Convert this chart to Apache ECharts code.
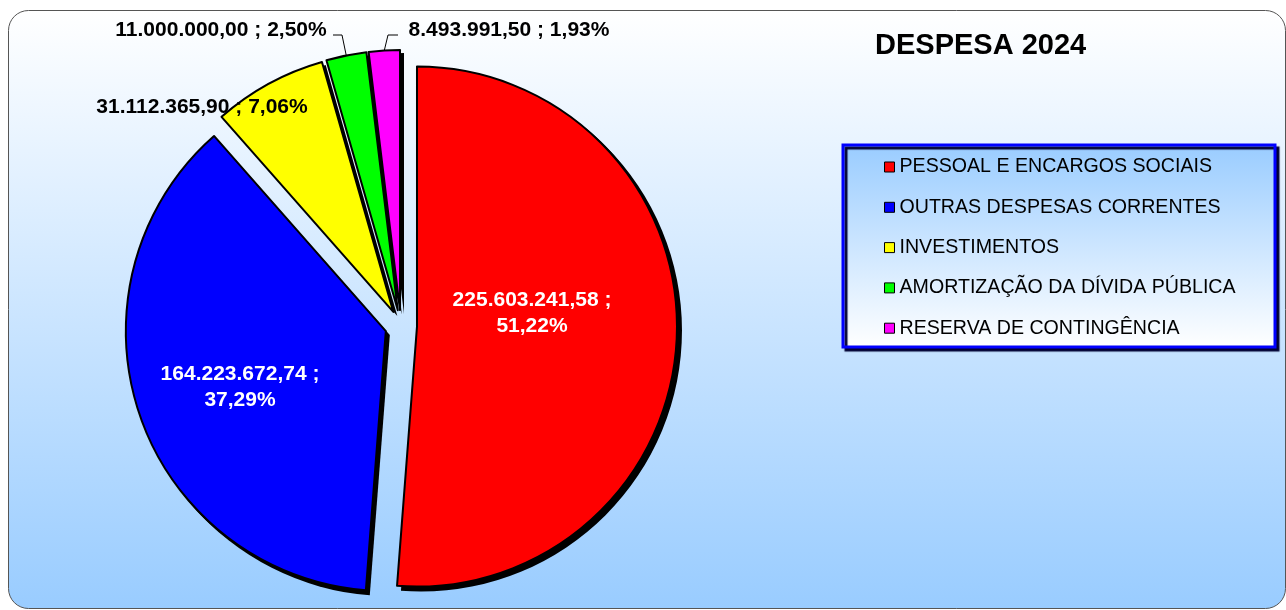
<!DOCTYPE html>
<html>
<head>
<meta charset="utf-8">
<script src="https://cdn.jsdelivr.net/npm/echarts@6/dist/echarts.min.js"></script>
<style>
html,body{margin:0;padding:0;background:#fff;}
#c{width:1286px;height:610px;}
</style>
</head>
<body>
<div id="c"></div>
<script>
const title = 'DESPESA 2024';
const categories = ['PESSOAL E ENCARGOS SOCIAIS', 'OUTRAS DESPESAS CORRENTES', 'INVESTIMENTOS', 'AMORTIZAÇÃO DA DÍVIDA PÚBLICA', 'RESERVA DE CONTINGÊNCIA'];
const values = [225603241.58, 164223672.74, 31112365.90, 11000000.00, 8493991.50];
const colors = ['#ff0000', '#0000ff', '#ffff00', '#00ff00', '#ff00ff'];

const FONT = '"Liberation Sans", Arial, sans-serif';
const CENTER = [401, 326];
const RADIUS = 260;
const EXPLODE = 16;

const total = values.reduce((a, b) => a + b, 0);
function fmtNum(v) {
  const parts = v.toFixed(2).split('.');
  return parts[0].replace(/\B(?=(\d{3})+(?!\d))/g, '.') + ',' + parts[1];
}
function fmtPct(v) {
  return (v / total * 100).toFixed(2).replace('.', ',') + '%';
}
// explode vector of each slice (clockwise from 12 o'clock)
const explodeVec = (function () {
  let acc = 0;
  return values.map(v => {
    const mid = (acc + v / 2) / total * Math.PI * 2;
    acc += v;
    return [Math.sin(mid) * EXPLODE, -Math.cos(mid) * EXPLODE];
  });
})();

// target label centres and label-line bends
const labelPos = [
  {x: 532, y: 313},
  {x: 240, y: 387},
  {x: 202, y: 107},
  {x: 221, y: 30, line: [[342, 35], [333, 35]]},
  {x: 509, y: 30, line: [[388, 35], [398, 35]]}
];

const data = values.map((v, i) => ({
  name: categories[i],
  value: v,
  selected: true,
  itemStyle: {color: colors[i]},
  label: i < 2 ? {
    position: 'inside', color: '#fff', lineHeight: 26,
    formatter: fmtNum(v) + ' ;\n' + fmtPct(v)
  } : {
    position: 'outside', color: '#000',
    formatter: fmtNum(v) + ' ; ' + fmtPct(v)
  },
  labelLine: {show: i >= 3}
}));
const shadowData = values.map((v, i) => ({name: categories[i], value: v, selected: true}));

const chart = echarts.init(document.getElementById('c'), null, {renderer: 'canvas'});
chart.setOption({
  animation: false,
  backgroundColor: '#ffffff',
  title: {
    text: title, left: 875, top: 31, padding: 0,
    textStyle: {fontSize: 29, fontWeight: 'bold', color: '#000', fontFamily: FONT}
  },
  graphic: [
    {
      type: 'rect', z: -10, silent: true,
      shape: {x: 8.5, y: 10.5, width: 1277, height: 598, r: 20},
      style: {
        fill: new echarts.graphic.LinearGradient(0, 0, 0, 1, [
          {offset: 0, color: '#ffffff'}, {offset: 1, color: '#99ccff'}
        ]),
        stroke: '#555555', lineWidth: 1
      }
    },
    {
      type: 'rect', z: 1, silent: true,
      shape: {x: 843, y: 145, width: 432, height: 202},
      style: {
        fill: new echarts.graphic.LinearGradient(0, 0, 0, 1, [
          {offset: 0, color: '#99ccff'}, {offset: 1, color: '#ffffff'}
        ]),
        stroke: '#0000ff', lineWidth: 3,
        shadowColor: '#000033', shadowOffsetX: 3, shadowOffsetY: 3, shadowBlur: 1
      }
    }
  ],
  legend: {
    orient: 'vertical', left: 884, top: 157, padding: 0,
    itemWidth: 10, itemHeight: 10, itemGap: 20.3, icon: 'rect',
    data: categories,
    itemStyle: {borderColor: '#000', borderWidth: 1},
    textStyle: {fontSize: 19.6, lineHeight: 20, color: '#000', fontFamily: FONT},
    selectedMode: false
  },
  series: [{
    type: 'pie',
    z: 3,
    center: CENTER,
    radius: [0, RADIUS],
    startAngle: 90,
    clockwise: true,
    selectedMode: 'multiple',
    selectedOffset: EXPLODE,
    avoidLabelOverlap: false,
    silent: true,
    data: data,
    itemStyle: {borderColor: '#000', borderWidth: 2},
    select: {itemStyle: {borderColor: '#000', borderWidth: 2}},
    emphasis: {disabled: true, scale: false},
    label: {show: true, fontSize: 21, fontWeight: 'bold', fontFamily: FONT},
    labelLine: {lineStyle: {color: '#000', width: 1}, length: 10, length2: 10},
    labelLayout: function (params) {
      const i = params.dataIndex;
      const p = labelPos[i];
      const r = params.labelRect;
      const ev = explodeVec[i];
      const out = {
        dx: p.x - ev[0] - (r.x + r.width / 2),
        dy: p.y - ev[1] - (r.y + r.height / 2)
      };
      if (p.line && params.labelLinePoints) {
        out.labelLinePoints = [
          params.labelLinePoints[0],
          [p.line[0][0] - ev[0], p.line[0][1] - ev[1]],
          [p.line[1][0] - ev[0], p.line[1][1] - ev[1]]
        ];
      }
      return out;
    }
  }, {
    type: 'pie',
    z: 2,
    center: [CENTER[0] + 4, CENTER[1] + 4],
    radius: [0, RADIUS + 1],
    startAngle: 90,
    clockwise: true,
    selectedMode: 'multiple',
    selectedOffset: EXPLODE,
    silent: true,
    data: shadowData,
    itemStyle: {color: '#000', borderWidth: 0},
    select: {itemStyle: {color: '#000'}},
    emphasis: {disabled: true, scale: false},
    label: {show: false},
    labelLine: {show: false}
  }]
});
</script>
</body>
</html>
